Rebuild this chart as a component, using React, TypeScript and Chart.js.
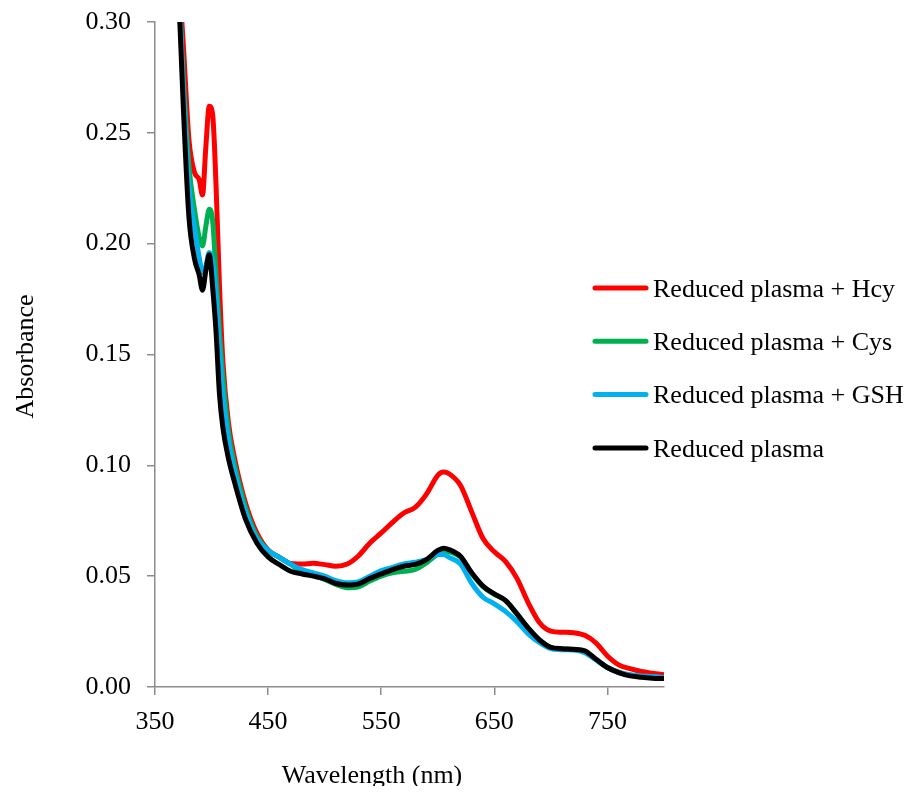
import React, { useEffect, useRef } from 'react';
import { Chart, registerables } from 'chart.js';

Chart.register(...registerables);

const wavelengths = [370,375,380,385,389,392,395,398,401,404,407,410,415,420,430,440,450,460,470,480,490,500,510,520,530,540,550,560,570,580,590,600,605,610,620,630,640,650,660,670,680,690,700,710,720,730,740,750,760,770,780,790,800];

const hcy = [0.330,0.290,0.247,0.232,0.229,0.222,0.244,0.262,0.258,0.226,0.181,0.147,0.119,0.104,0.083,0.0695,0.0618,0.0585,0.0557,0.0555,0.0558,0.0552,0.0545,0.0555,0.0592,0.0650,0.0695,0.0743,0.0785,0.0810,0.0870,0.0955,0.0970,0.0962,0.0910,0.0790,0.0670,0.0610,0.0566,0.0490,0.0380,0.0290,0.0252,0.0247,0.0245,0.0233,0.0198,0.0140,0.0100,0.0083,0.0070,0.0062,0.0055];

const cys = [0.328,0.275,0.235,0.215,0.203,0.199,0.208,0.2155,0.210,0.186,0.160,0.140,0.115,0.101,0.081,0.068,0.0615,0.0585,0.0553,0.0520,0.0505,0.0485,0.0463,0.0448,0.0452,0.0478,0.0500,0.0515,0.0522,0.0530,0.0560,0.0600,0.0615,0.0610,0.0587,0.0512,0.0453,0.0418,0.0390,0.0330,0.0264,0.0211,0.0178,0.0172,0.0169,0.0160,0.0123,0.0088,0.0067,0.0054,0.0047,0.0042,0.0040];

const gsh = [0.327,0.270,0.226,0.207,0.194,0.187,0.190,0.196,0.192,0.176,0.152,0.132,0.111,0.098,0.079,0.067,0.0615,0.0585,0.0553,0.0530,0.0515,0.0500,0.0480,0.0470,0.0475,0.0500,0.0525,0.0540,0.0555,0.0563,0.0575,0.0598,0.0598,0.0585,0.0555,0.0468,0.0405,0.0375,0.0340,0.0295,0.0240,0.0200,0.0173,0.0168,0.0167,0.0155,0.0122,0.0088,0.0065,0.0055,0.0050,0.0047,0.0043];

const plasma = [0.325,0.262,0.212,0.193,0.186,0.179,0.188,0.195,0.180,0.160,0.132,0.117,0.103,0.093,0.0757,0.065,0.0587,0.0552,0.0522,0.0510,0.0500,0.0488,0.0467,0.0460,0.0465,0.0490,0.0510,0.0530,0.0545,0.0553,0.0575,0.0616,0.0626,0.0620,0.0590,0.0515,0.0455,0.0420,0.0390,0.0330,0.0266,0.0212,0.0179,0.0173,0.0170,0.0163,0.0125,0.0088,0.0065,0.0050,0.0044,0.0040,0.0038];

const seriesLabels = ['Reduced plasma + Hcy', 'Reduced plasma + Cys', 'Reduced plasma + GSH', 'Reduced plasma'];
const seriesColors = ['#FF0000', '#00B050', '#00B0F0', '#000000'];
const xTickValues = [350, 450, 550, 650, 750];
const yTickValues = [0, 0.05, 0.10, 0.15, 0.20, 0.25, 0.30];
const xTitle = 'Wavelength (nm)';
const yTitle = 'Absorbance';

const FONT_FAMILY = "'Liberation Serif', 'Times New Roman', serif";
const AXIS_COLOR = '#8c8c8c';

export default function App() {
  const ref = useRef<HTMLCanvasElement | null>(null);

  useEffect(() => {
    const canvas = ref.current;
    if (!canvas) return;
    const allSeries = [hcy, cys, gsh, plasma];
    const mk = (i: number) => ({
      label: seriesLabels[i],
      data: wavelengths.map((w, k) => ({ x: w, y: allSeries[i][k] })),
      borderColor: seriesColors[i],
      backgroundColor: seriesColors[i],
      borderWidth: 5,
      pointRadius: 0,
      cubicInterpolationMode: 'monotone' as const,
      borderCapStyle: 'round' as const,
      borderJoinStyle: 'round' as const,
      fill: false,
    });

    const overlay = {
      id: 'overlay',
      afterDraw(chart: any) {
        const ctx = chart.ctx;
        ctx.save();
        ctx.fillStyle = '#000';
        ctx.font = `26px ${FONT_FAMILY}`;
        // x title
        ctx.textAlign = 'center';
        ctx.textBaseline = 'alphabetic';
        ctx.fillText(xTitle, 364, 775);
        // y title
        ctx.save();
        ctx.translate(25, (chart.chartArea.top + chart.chartArea.bottom) / 2 + 2);
        ctx.rotate(-Math.PI / 2);
        ctx.fillText(yTitle, 0, 0);
        ctx.restore();
        // legend
        const lx0 = 585, lx1 = 640, ly0 = 280, step = 53.3;
        for (let i = 0; i < seriesLabels.length; i++) {
          const y = ly0 + i * step;
          ctx.strokeStyle = seriesColors[i];
          ctx.lineWidth = 5;
          ctx.lineCap = 'round';
          ctx.beginPath();
          ctx.moveTo(lx0 + 2, y);
          ctx.lineTo(lx1 - 2, y);
          ctx.stroke();
          ctx.textAlign = 'left';
          ctx.textBaseline = 'middle';
          ctx.fillStyle = '#000';
          ctx.fillText(seriesLabels[i], 645, y + 2);
        }
        ctx.restore();
      },
    };

    const tickFont = { family: FONT_FAMILY, size: 26 };

    const chart = new Chart(canvas, {
      type: 'line',
      data: {
        datasets: [mk(3), mk(2), mk(1), mk(0)],
      },
      options: {
        animation: false,
        responsive: false,
        devicePixelRatio: 1,
        layout: { padding: { left: 0, right: 239, top: 14, bottom: 0 } },
        plugins: {
          legend: { display: false },
          tooltip: { enabled: false },
        },
        scales: {
          x: {
            type: 'linear',
            min: 350,
            max: 800,
            afterBuildTicks: (s: any) => {
              s.ticks = xTickValues.map((v) => ({ value: v }));
            },
            afterFit: (s: any) => {
              s.height = 99;
              s.paddingLeft = 0;
              s.paddingRight = 0;
            },
            grid: {
              drawOnChartArea: false,
              drawTicks: true,
              tickLength: 8,
              color: AXIS_COLOR,
              lineWidth: 1.5,
            },
            border: { display: true, color: AXIS_COLOR, width: 1.5 },
            ticks: {
              font: tickFont,
              color: '#000',
              padding: 12,
              maxRotation: 0,
              autoSkip: false,
              callback: (v: any) => String(v),
            },
          },
          y: {
            type: 'linear',
            min: 0,
            max: 0.3,
            afterBuildTicks: (s: any) => {
              s.ticks = yTickValues.map((v) => ({ value: v }));
            },
            afterFit: (s: any) => {
              s.width = 147;
              s.paddingTop = 0;
              s.paddingBottom = 0;
            },
            grid: {
              drawOnChartArea: false,
              drawTicks: true,
              tickLength: 8,
              color: AXIS_COLOR,
              lineWidth: 1.5,
            },
            border: { display: true, color: AXIS_COLOR, width: 1.5 },
            ticks: {
              font: tickFont,
              color: '#000',
              padding: 16,
              autoSkip: false,
              callback: (v: any) => Number(v).toFixed(2),
            },
          },
        },
      },
      plugins: [overlay],
    } as any);

    return () => chart.destroy();
  }, []);

  return (
    <div style={{ width: 895, height: 778 }}>
      <canvas ref={ref} width={895} height={778} style={{ display: 'block', width: 895, height: 778 }} />
    </div>
  );
}
